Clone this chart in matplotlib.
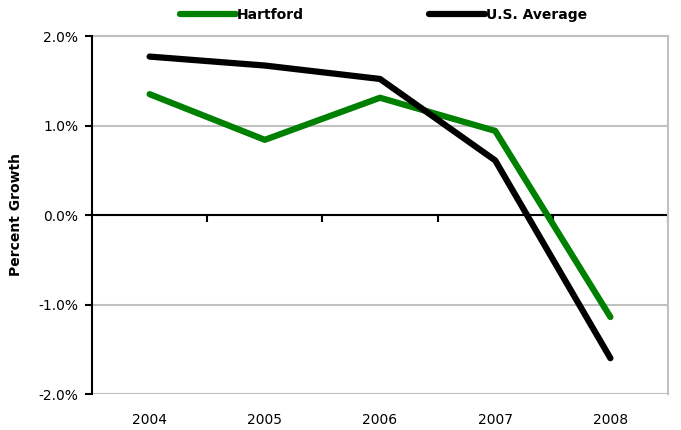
import matplotlib.pyplot as plt
from matplotlib.ticker import FuncFormatter

# Data (percent growth)
years = ['2004', '2005', '2006', '2007', '2008']
hartford = [1.35, 0.84, 1.31, 0.94, -1.14]
us_avg = [1.77, 1.67, 1.52, 0.61, -1.60]

fig = plt.figure(figsize=(6.81, 4.30), dpi=100)
ax = fig.add_axes([92/681, 36/430, 576/681, 358/430])

x = list(range(len(years)))
ax.plot(x, hartford, color='#008000', lw=4.5, solid_capstyle='round', label='Hartford', zorder=3)
ax.plot(x, us_avg, color='black', lw=4.5, solid_capstyle='round', label='U.S. Average', zorder=4)

ax.set_xlim(-0.5, len(years) - 0.5)
ax.set_ylim(-2, 2)
ax.set_yticks([-2, -1, 0, 1, 2])
ax.yaxis.set_major_formatter(FuncFormatter(lambda v, p: f'{v:.1f}%'))
ax.grid(axis='y', color='#c0c0c0', lw=1.5, zorder=0)
ax.set_axisbelow(True)

# zero line with category boundary ticks
ax.axhline(0, color='black', lw=1.5, zorder=2)
bounds = [i + 0.5 for i in x]
ax.plot(bounds, [0] * len(bounds), ls='none', marker=3, ms=5, mew=1.5, color='black', zorder=2)

ax.set_xticks(x)
ax.set_xticklabels(years)
ax.tick_params(axis='x', length=0, pad=14, labelsize=10)
ax.tick_params(axis='y', direction='out', length=5, width=1.5, labelsize=10, pad=5)

ax.spines['bottom'].set_visible(False)
ax.spines['left'].set_linewidth(1.5)
ax.spines['left'].set_zorder(5)
for s in ['top', 'right']:
    ax.spines[s].set_color('#c0c0c0')
    ax.spines[s].set_linewidth(1.5)

ax.set_ylabel('Percent Growth', fontweight='bold', fontsize=10)
ax.yaxis.set_label_coords(-0.12, 0.5)

fig.legend(loc='center left', bbox_to_anchor=(180/681, 1 - 15/430), ncol=2, frameon=False,
           handlelength=4.0, handletextpad=0.1, columnspacing=9.0, borderpad=0, borderaxespad=0,
           prop={'weight': 'bold', 'size': 10})

fig.savefig('out.png', dpi=100)
